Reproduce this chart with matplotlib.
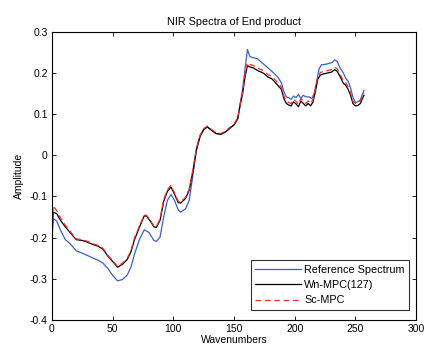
import matplotlib
matplotlib.use("Agg")
import matplotlib.pyplot as plt

plt.rcParams['font.family'] = ['Liberation Sans', 'DejaVu Sans']

wn_ref = [0, 1, 4, 7, 11, 15, 20, 25, 29, 34, 38, 42, 46, 50, 54, 58, 62, 65, 68, 72, 76, 80, 84, 86, 89, 92, 95, 98, 101, 104, 106, 110, 113, 116, 119, 122, 125, 128, 131, 135, 139, 143, 147, 150, 153, 155, 157, 159, 161, 163, 166, 169, 173, 177, 180, 183, 186, 189, 191, 193, 195, 197, 199, 201, 203, 205, 207, 209, 212, 214, 216, 218, 220, 222, 225, 228, 231, 233, 235, 237, 240, 242, 244, 246, 248, 250, 252, 254, 256, 257]
ref = [-0.211, -0.154, -0.160, -0.182, -0.205, -0.215, -0.232, -0.238, -0.243, -0.250, -0.255, -0.262, -0.275, -0.292, -0.305, -0.302, -0.291, -0.272, -0.240, -0.205, -0.181, -0.188, -0.207, -0.209, -0.199, -0.150, -0.110, -0.095, -0.110, -0.133, -0.138, -0.130, -0.110, -0.050, 0.012, 0.045, 0.063, 0.069, 0.062, 0.053, 0.051, 0.057, 0.067, 0.074, 0.089, 0.125, 0.160, 0.210, 0.257, 0.240, 0.237, 0.235, 0.225, 0.215, 0.207, 0.199, 0.190, 0.176, 0.155, 0.142, 0.140, 0.136, 0.144, 0.140, 0.148, 0.138, 0.146, 0.142, 0.142, 0.138, 0.150, 0.180, 0.210, 0.220, 0.221, 0.223, 0.226, 0.232, 0.228, 0.214, 0.200, 0.187, 0.180, 0.163, 0.140, 0.128, 0.130, 0.135, 0.150, 0.158]

wn_mpc = [0, 1, 4, 7, 11, 15, 20, 25, 29, 34, 38, 42, 46, 50, 54, 58, 62, 65, 68, 72, 76, 78, 81, 84, 86, 89, 92, 95, 98, 101, 104, 106, 110, 113, 116, 119, 122, 125, 128, 131, 135, 139, 143, 147, 150, 153, 155, 157, 159, 161, 163, 166, 170, 174, 178, 181, 183, 186, 189, 191, 193, 195, 197, 199, 201, 203, 205, 207, 209, 211, 213, 215, 217, 219, 221, 224, 227, 230, 233, 235, 237, 240, 242, 244, 246, 248, 250, 252, 254, 256, 257]
wn_mpc_vals = [-0.190, -0.138, -0.142, -0.158, -0.174, -0.188, -0.205, -0.207, -0.211, -0.217, -0.221, -0.228, -0.245, -0.258, -0.272, -0.265, -0.253, -0.235, -0.205, -0.175, -0.147, -0.148, -0.160, -0.174, -0.175, -0.158, -0.112, -0.088, -0.077, -0.095, -0.115, -0.116, -0.105, -0.085, -0.040, 0.015, 0.047, 0.063, 0.069, 0.062, 0.053, 0.051, 0.057, 0.067, 0.074, 0.089, 0.122, 0.150, 0.190, 0.218, 0.215, 0.212, 0.205, 0.200, 0.190, 0.186, 0.180, 0.170, 0.160, 0.138, 0.126, 0.122, 0.120, 0.130, 0.125, 0.118, 0.132, 0.126, 0.120, 0.126, 0.120, 0.130, 0.155, 0.185, 0.195, 0.198, 0.200, 0.202, 0.208, 0.204, 0.193, 0.175, 0.170, 0.160, 0.145, 0.125, 0.120, 0.121, 0.126, 0.140, 0.146]

sc_mpc_vals = [-0.185, -0.122, -0.135, -0.152, -0.170, -0.185, -0.203, -0.205, -0.209, -0.215, -0.219, -0.226, -0.243, -0.256, -0.270, -0.262, -0.250, -0.232, -0.200, -0.172, -0.145, -0.146, -0.158, -0.172, -0.173, -0.155, -0.108, -0.084, -0.073, -0.092, -0.112, -0.113, -0.102, -0.082, -0.036, 0.018, 0.049, 0.065, 0.071, 0.064, 0.055, 0.053, 0.059, 0.069, 0.076, 0.091, 0.124, 0.153, 0.195, 0.225, 0.221, 0.218, 0.211, 0.206, 0.196, 0.192, 0.186, 0.176, 0.166, 0.144, 0.132, 0.128, 0.126, 0.136, 0.131, 0.124, 0.138, 0.132, 0.126, 0.132, 0.126, 0.136, 0.161, 0.191, 0.201, 0.204, 0.206, 0.208, 0.214, 0.210, 0.199, 0.181, 0.176, 0.166, 0.151, 0.131, 0.126, 0.127, 0.132, 0.146, 0.152]

xticks = [0, 50, 100, 150, 200, 250, 300]
yticks = [-0.4, -0.3, -0.2, -0.1, 0, 0.1, 0.2, 0.3]
yticklabels = ['-0.4', '-0.3', '-0.2', '-0.1', '0', '0.1', '0.2', '0.3']

fig = plt.figure(figsize=(4.26, 3.5), dpi=100)
ax = fig.add_axes([0.122, 0.086, 0.855, 0.823])

ax.plot(wn_ref, ref, color='#3d5fc4', lw=0.9, label='Reference Spectrum')
ax.plot(wn_mpc, wn_mpc_vals, color='black', lw=0.9, label='Wn-MPC(127)')
ax.plot(wn_mpc, sc_mpc_vals, color='#ff2a2a', lw=0.9, ls=(0, (4.5, 3)), label='Sc-MPC')

ax.set_xlim(0, 300)
ax.set_ylim(-0.4, 0.3)
ax.set_xticks(xticks)
ax.set_yticks(yticks)
ax.set_yticklabels(yticklabels)
ax.tick_params(direction='in', top=True, right=True, labelsize=7.5, length=3, width=0.6, pad=3)
for s in ax.spines.values():
    s.set_linewidth(0.8)

ax.set_title('NIR Spectra of End product', fontsize=7.8, pad=5)
ax.set_xlabel('Wavenumbers', fontsize=7.5, labelpad=1)
ax.set_ylabel('Amplitude', fontsize=7.5, labelpad=4)

leg = ax.legend(loc='lower right', bbox_to_anchor=(0.981, 0.035), fontsize=7.8, frameon=True,
                fancybox=False, edgecolor='black', handlelength=4.2, borderpad=0.4,
                labelspacing=0.5, handletextpad=0.35, borderaxespad=0)
leg.get_frame().set_linewidth(0.8)

fig.savefig('out.png', dpi=100)
